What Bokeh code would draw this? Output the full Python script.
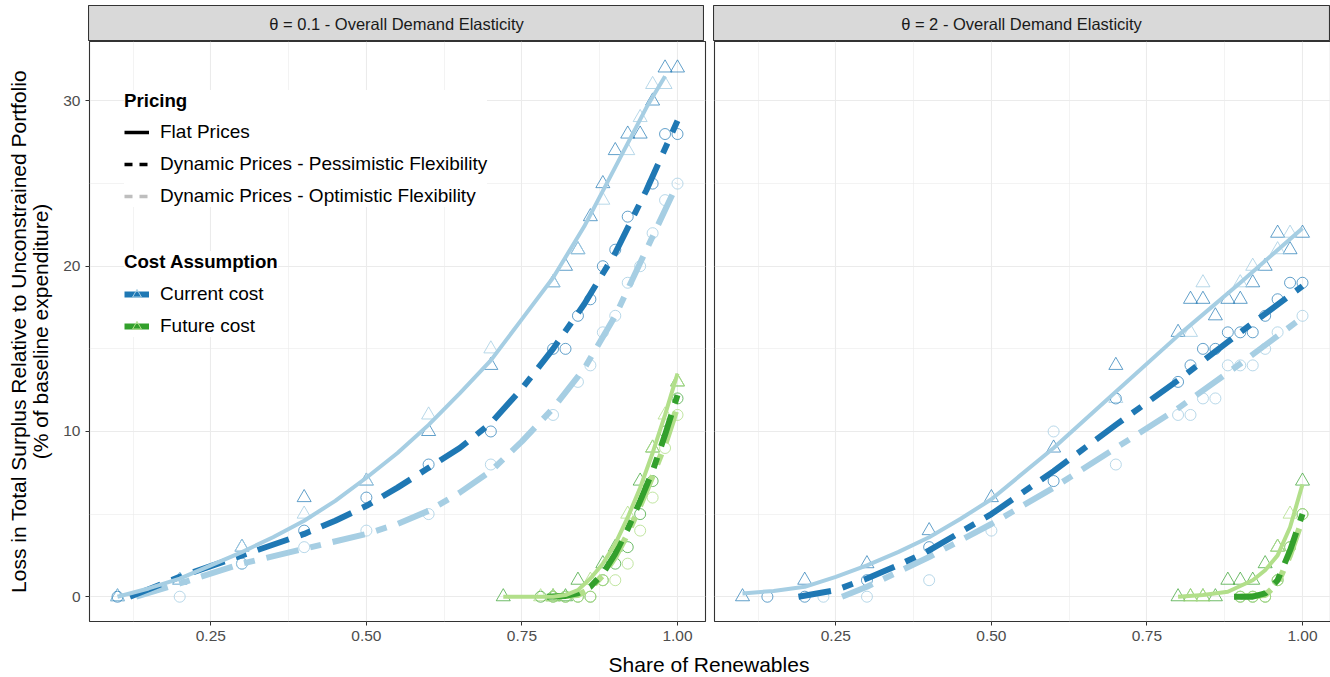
import math
from bokeh.plotting import figure
from bokeh.layouts import column, row, Spacer
from bokeh.models import FixedTicker, Legend, LegendItem, Range1d
from bokeh.core.properties import value
from bokeh.embed import file_html
from bokeh.resources import INLINE

FONT = "Liberation Sans"

# ---------------------------------------------------------------- labels / ticks
facet_labels = ["θ = 0.1 - Overall Demand Elasticity", "θ = 2 - Overall Demand Elasticity"]
x_title = "Share of Renewables"
y_title_lines = ["Loss in Total Surplus Relative to Unconstrained Portfolio",
                 "(% of baseline expenditure)"]
x_ticks = [0.25, 0.50, 0.75, 1.00]
x_tick_labels = ["0.25", "0.50", "0.75", "1.00"]
x_minor = [0.125, 0.375, 0.625, 0.875]
y_ticks = [0, 10, 20, 30]
y_tick_labels = ["0", "10", "20", "30"]
y_minor = [5, 15, 25]
pricing_title = "Pricing"
pricing_labels = ["Flat Prices",
                  "Dynamic Prices - Pessimistic Flexibility",
                  "Dynamic Prices - Optimistic Flexibility"]
cost_title = "Cost Assumption"
cost_labels = ["Current cost", "Future cost"]

# ---------------------------------------------------------------- θ = 0.1, current cost
t01_cur_flat_x = [0.1, 0.2, 0.3, 0.4, 0.5, 0.6, 0.7, 0.8, 0.82, 0.84, 0.86, 0.88, 0.9, 0.92, 0.94, 0.96, 0.98, 1.0]
t01_cur_flat_y = [0, 1, 3, 6, 7, 10, 14, 19, 20, 21, 23, 25, 27, 28, 28, 30, 32, 32]
t01_cur_flat2_x = [0.1, 0.2, 0.3, 0.4, 0.5, 0.6, 0.7, 0.8, 0.84, 0.88, 0.92, 0.94, 0.96, 0.98]
t01_cur_flat2_y = [0, 1, 3, 5, 7, 11, 15, 19, 21, 24, 27, 29, 31, 31]
t01_cur_pess_x = [0.1, 0.3, 0.4, 0.5, 0.6, 0.7, 0.8, 0.82, 0.84, 0.86, 0.88, 0.9, 0.92, 0.96, 0.98, 1.0]
t01_cur_pess_y = [0, 2, 4, 6, 8, 10, 15, 15, 17, 18, 20, 21, 23, 25, 28, 28]
t01_cur_opt_x = [0.2, 0.3, 0.4, 0.5, 0.6, 0.7, 0.8, 0.84, 0.86, 0.88, 0.9, 0.92, 0.94, 0.96, 0.98, 1.0]
t01_cur_opt_y = [0, 2, 3, 4, 5, 8, 11, 13, 14, 16, 17, 19, 20, 22, 24, 25]
t01_cur_flat_fit_x = [0.1, 0.15, 0.2, 0.25, 0.3, 0.35, 0.4, 0.45, 0.5, 0.55, 0.6, 0.65, 0.7, 0.75, 0.8, 0.85, 0.9, 0.95, 0.98]
t01_cur_flat_fit_y = [0.0, 0.5, 1.1, 1.9, 2.7, 3.6, 4.6, 5.8, 7.2, 8.7, 10.4, 12.3, 14.3, 16.8, 19.3, 22.4, 26.0, 29.6, 31.5]
t01_cur_pess_fit_x = [0.12, 0.2, 0.3, 0.4, 0.45, 0.5, 0.55, 0.6, 0.65, 0.7, 0.75, 0.8, 0.85, 0.9, 0.95, 1.0]
t01_cur_pess_fit_y = [0.0, 1.2, 2.5, 3.8, 4.6, 5.5, 6.6, 7.8, 9.0, 10.5, 12.6, 15.0, 17.7, 20.8, 24.6, 28.8]
t01_cur_opt_fit_x = [0.13, 0.2, 0.3, 0.4, 0.5, 0.55, 0.6, 0.65, 0.7, 0.75, 0.8, 0.85, 0.9, 0.95, 1.0]
t01_cur_opt_fit_y = [0.0, 0.8, 2.0, 2.9, 3.8, 4.4, 5.2, 6.3, 7.6, 9.4, 11.4, 13.8, 17.0, 21.0, 25.0]

# ---------------------------------------------------------------- θ = 0.1, future cost
t01_fut_flat_x = [0.72, 0.8, 0.82, 0.84, 0.88, 0.9, 0.94, 0.96, 1.0]
t01_fut_flat_y = [0, 0, 0, 1, 2, 3, 7, 9, 13]
t01_fut_flat2_x = [0.78, 0.8, 0.86, 0.92, 0.96, 0.98, 1.0]
t01_fut_flat2_y = [0, 0, 1, 5, 9, 11, 13]
t01_fut_pess_x = [0.78, 0.8, 0.82, 0.84, 0.86, 0.88, 0.9, 0.92, 0.94, 0.96, 0.98, 1.0]
t01_fut_pess_y = [0, 0, 0, 0, 0, 1, 2, 3, 5, 7, 10, 12]
t01_fut_opt_x = [0.8, 0.82, 0.84, 0.86, 0.88, 0.9, 0.92, 0.94, 0.96, 0.98, 1.0]
t01_fut_opt_y = [0, 0, 0, 0, 1, 1, 2, 4, 6, 9, 11]
t01_fut_flat_fit_x = [0.72, 0.8, 0.82, 0.84, 0.86, 0.88, 0.9, 0.92, 0.94, 0.96, 0.98, 1.0]
t01_fut_flat_fit_y = [0.0, 0.0, 0.1, 0.4, 1.1, 2.0, 3.2, 4.8, 6.6, 8.7, 11.0, 13.5]
t01_fut_pess_fit_x = [0.79, 0.82, 0.84, 0.86, 0.88, 0.9, 0.92, 0.94, 0.96, 0.98, 1.0]
t01_fut_pess_fit_y = [0.0, 0.05, 0.2, 0.6, 1.4, 2.6, 4.1, 5.8, 7.6, 9.8, 12.2]
t01_fut_opt_fit_x = [0.8, 0.84, 0.86, 0.88, 0.9, 0.92, 0.94, 0.96, 0.98, 1.0]
t01_fut_opt_fit_y = [0.0, 0.1, 0.5, 1.3, 2.4, 3.8, 5.5, 7.3, 9.2, 11.5]

# ---------------------------------------------------------------- θ = 2, current cost
t2_cur_flat_x = [0.1, 0.2, 0.3, 0.4, 0.5, 0.6, 0.7, 0.8, 0.82, 0.84, 0.86, 0.88, 0.9, 0.92, 0.94, 0.96, 0.98, 1.0]
t2_cur_flat_y = [0, 1, 2, 4, 6, 9, 14, 16, 18, 18, 17, 18, 18, 19, 20, 22, 21, 22]
t2_cur_flat2_x = [0.7, 0.82, 0.84, 0.9, 0.92, 0.96, 0.98]
t2_cur_flat2_y = [12, 16, 19, 19, 20, 21, 22]
t2_cur_pess_x = [0.14, 0.2, 0.3, 0.4, 0.6, 0.7, 0.8, 0.82, 0.84, 0.86, 0.88, 0.9, 0.92, 0.94, 0.96, 0.98, 1.0]
t2_cur_pess_y = [0, 0, 1, 3, 7, 12, 13, 14, 15, 15, 16, 16, 16, 17, 18, 19, 19]
t2_cur_opt_x = [0.23, 0.3, 0.4, 0.5, 0.6, 0.7, 0.8, 0.82, 0.84, 0.86, 0.88, 0.9, 0.92, 0.94, 0.96, 1.0]
t2_cur_opt_y = [0, 0, 1, 4, 10, 8, 11, 11, 12, 12, 14, 14, 14, 15, 16, 17]
t2_cur_flat_fit_x = [0.1, 0.15, 0.2, 0.25, 0.3, 0.35, 0.4, 0.45, 0.5, 0.6, 0.7, 0.8, 0.9, 1.0]
t2_cur_flat_fit_y = [0.2, 0.35, 0.6, 1.2, 1.9, 2.7, 3.6, 4.7, 5.9, 9.0, 12.4, 15.8, 19.0, 22.3]
t2_cur_pess_fit_x = [0.19, 0.25, 0.3, 0.35, 0.4, 0.45, 0.5, 0.6, 0.7, 0.8, 0.9, 1.0]
t2_cur_pess_fit_y = [0.0, 0.4, 1.1, 1.9, 2.8, 3.9, 5.0, 7.6, 10.4, 13.1, 16.0, 18.8]
t2_cur_opt_fit_x = [0.26, 0.3, 0.35, 0.4, 0.45, 0.5, 0.6, 0.7, 0.8, 0.9, 1.0]
t2_cur_opt_fit_y = [0.0, 0.6, 1.5, 2.4, 3.4, 4.4, 6.6, 9.0, 11.4, 14.1, 16.9]

# ---------------------------------------------------------------- θ = 2, future cost
t2_fut_flat_x = [0.8, 0.82, 0.84, 0.86, 0.88, 0.9, 0.92, 0.94, 0.96, 1.0]
t2_fut_flat_y = [0, 0, 0, 0, 1, 1, 1, 2, 3, 7]
t2_fut_flat2_x = [0.82, 0.84, 0.96, 0.98]
t2_fut_flat2_y = [0, 0, 3, 5]
t2_fut_pess_x = [0.9, 0.92, 0.94, 0.96, 0.98, 1.0]
t2_fut_pess_y = [0, 0, 0, 1, 3, 5]
t2_fut_opt_x = [0.9, 0.92, 0.94, 0.96, 0.98, 1.0]
t2_fut_opt_y = [0, 0, 0, 1, 3, 5]
t2_fut_flat_fit_x = [0.8, 0.84, 0.88, 0.92, 0.94, 0.96, 0.98, 1.0]
t2_fut_flat_fit_y = [0.0, 0.1, 0.3, 1.0, 1.6, 2.5, 4.2, 6.8]
t2_fut_pess_fit_x = [0.89, 0.92, 0.94, 0.96, 0.98, 1.0]
t2_fut_pess_fit_y = [0.0, 0.0, 0.2, 1.0, 2.8, 5.0]
t2_fut_opt_fit_x = [0.9, 0.94, 0.96, 0.98, 1.0]
t2_fut_opt_fit_y = [0.0, 0.1, 0.8, 2.5, 4.7]

# ---------------------------------------------------------------- styling
DARK = {"cur": "#1F78B4", "fut": "#33A02C"}
LIGHT = {"cur": "#A6CEE3", "fut": "#B2DF8A"}
DASH = "33 12 11 12"
X_RANGE = (0.055, 1.045)
Y_RANGE = (-1.5, 33.6)
FRAME_W, FRAME_H = 616, 580
NAN = [float("nan")]


def series(prefix):
    g = globals()
    keys = ["flat", "flat2", "pess", "opt", "flat_fit", "pess_fit", "opt_fit"]
    return {k: (g[f"{prefix}_{k}_x"], g[f"{prefix}_{k}_y"]) for k in keys}


def draw(p, s, dark, light):
    p.scatter(*s["flat"], marker="triangle", size=14, fill_color=None,
              line_color=dark, line_alpha=0.7, line_width=1)
    p.scatter(*s["flat2"], marker="triangle", size=14, fill_color=None,
              line_color=light, line_alpha=0.8, line_width=1)
    p.scatter(*s["pess"], marker="circle", size=11, fill_color=None,
              line_color=dark, line_alpha=0.7, line_width=1)
    p.scatter(*s["opt"], marker="circle", size=11, fill_color=None,
              line_color=light, line_alpha=0.8, line_width=1)
    p.line(*s["opt_fit"], line_color=light, line_width=6, line_dash=DASH)
    p.line(*s["pess_fit"], line_color=dark, line_width=6, line_dash=DASH)
    p.line(*s["flat_fit"], line_color=light, line_width=4)


def bare(fig):
    fig.grid.visible = False
    fig.axis.visible = False
    return fig


def panel(min_left, min_right, show_y):
    p = figure(frame_width=FRAME_W, frame_height=FRAME_H,
               min_border_left=min_left, min_border_right=min_right,
               min_border_top=0, min_border_bottom=32,
               x_range=Range1d(*X_RANGE), y_range=Range1d(*Y_RANGE),
               output_backend="svg", toolbar_location=None,
               background_fill_color="white", border_fill_color="white")
    p.outline_line_color = "#333333"
    p.outline_line_width = 1.1
    p.xaxis.ticker = FixedTicker(ticks=x_ticks, minor_ticks=x_minor)
    p.xaxis.major_label_overrides = dict(zip(x_ticks, x_tick_labels))
    p.yaxis.ticker = FixedTicker(ticks=y_ticks, minor_ticks=y_minor)
    p.yaxis.major_label_overrides = dict(zip(y_ticks, y_tick_labels))
    for ax in (p.xaxis[0], p.yaxis[0]):
        ax.axis_line_color = None
        ax.major_tick_line_color = "#333333"
        ax.major_tick_out = 4
        ax.major_tick_in = 0
        ax.minor_tick_line_color = None
        ax.major_label_text_font = FONT
        ax.major_label_text_font_size = "15.5px"
        ax.major_label_text_color = "#4D4D4D"
        ax.major_label_standoff = 5
    p.yaxis.visible = show_y
    for g in (p.xgrid[0], p.ygrid[0]):
        g.grid_line_color = "#EBEBEB"
        g.grid_line_width = 1.1
        g.minor_grid_line_color = "#EBEBEB"
        g.minor_grid_line_width = 0.6
    return p


def strip(label, min_right):
    s = figure(frame_width=FRAME_W, frame_height=36, min_border_top=5,
               min_border_bottom=0, min_border_left=0, min_border_right=min_right,
               x_range=Range1d(0, 1), y_range=Range1d(0, 1),
               output_backend="svg", toolbar_location=None,
               background_fill_color="#D9D9D9", border_fill_color="white")
    bare(s)
    s.outline_line_color = "#333333"
    s.outline_line_width = 1.1
    s.text(x=[0.5], y=[0.5], text=[label], text_align="center", text_baseline="middle",
           text_font=value(FONT), text_font_size="16.5px", text_color="#1A1A1A")
    return s


# ---------------------------------------------------------------- panels
p1 = panel(28, 4, True)
draw(p1, series("t01_cur"), DARK["cur"], LIGHT["cur"])
draw(p1, series("t01_fut"), DARK["fut"], LIGHT["fut"])

p2 = panel(5, 1, False)
draw(p2, series("t2_cur"), DARK["cur"], LIGHT["cur"])
draw(p2, series("t2_fut"), DARK["fut"], LIGHT["fut"])

# ---------------------------------------------------------------- legends (key glyphs only, no data drawn)
k_flat = p1.line(NAN, NAN, line_color="black", line_width=3.5)
k_pess = p1.line(NAN, NAN, line_color="black", line_width=3.5, line_dash="8 7")
k_opt = p1.line(NAN, NAN, line_color="#BEBEBE", line_width=3.5, line_dash="8 7")
k_cur_l = p1.line(NAN, NAN, line_color=DARK["cur"], line_width=6)
k_cur_m = p1.scatter(NAN, NAN, marker="triangle", size=10, fill_color=None,
                     line_color=LIGHT["cur"], line_width=1)
k_fut_l = p1.line(NAN, NAN, line_color=DARK["fut"], line_width=6)
k_fut_m = p1.scatter(NAN, NAN, marker="triangle", size=10, fill_color=None,
                     line_color=LIGHT["fut"], line_width=1)

legend_style = dict(
    padding=6, margin=0, spacing=10, label_height=22, glyph_height=22, glyph_width=25,
    label_standoff=11, border_line_color=None, background_fill_color="white",
    background_fill_alpha=1.0, label_text_font=FONT, label_text_font_size="19px",
    label_text_color="black", title_text_font=FONT, title_text_font_size="18.67px",
    title_text_font_style="bold", title_text_color="black",
)
leg_pricing = Legend(
    title=pricing_title, location=(35, 414), title_standoff=9,
    items=[LegendItem(label=pricing_labels[0], renderers=[k_flat]),
           LegendItem(label=pricing_labels[1], renderers=[k_pess]),
           LegendItem(label=pricing_labels[2], renderers=[k_opt])],
    **legend_style)
leg_cost = Legend(
    title=cost_title, location=(35, 284), title_standoff=10,
    items=[LegendItem(label=cost_labels[0], renderers=[k_cur_l, k_cur_m]),
           LegendItem(label=cost_labels[1], renderers=[k_fut_l, k_fut_m])],
    **legend_style)
p1.add_layout(leg_pricing)
p1.add_layout(leg_cost)

# ---------------------------------------------------------------- axis titles
ytitle = figure(frame_width=60, frame_height=FRAME_H, min_border_left=0, min_border_right=0,
                min_border_top=0, min_border_bottom=32,
                x_range=Range1d(0, 60), y_range=Range1d(0, FRAME_H),
                outline_line_color=None, output_backend="svg", toolbar_location=None,
                border_fill_color="white")
bare(ytitle)
ytitle.text(x=[18, 40], y=[FRAME_H / 2, FRAME_H / 2], text=y_title_lines, angle=math.pi / 2,
            text_align="center", text_baseline="middle", text_font=value(FONT),
            text_font_size="21px", text_color="black")

xtitle = figure(frame_width=1330, frame_height=24, min_border=0,
                x_range=Range1d(0, 1330), y_range=Range1d(0, 24),
                outline_line_color=None, output_backend="svg", toolbar_location=None,
                border_fill_color="white")
bare(xtitle)
xtitle.text(x=[708.5], y=[13], text=[x_title], text_align="center", text_baseline="middle",
            text_font=value(FONT), text_font_size="21px", text_color="black")

top = row(Spacer(width=88, height=41), strip(facet_labels[0], 0),
          Spacer(width=9, height=41), strip(facet_labels[1], 1))
middle = row(ytitle, p1, p2)
layout = column(top, middle, xtitle)

open("out.html", "w").write(file_html(layout, INLINE))
